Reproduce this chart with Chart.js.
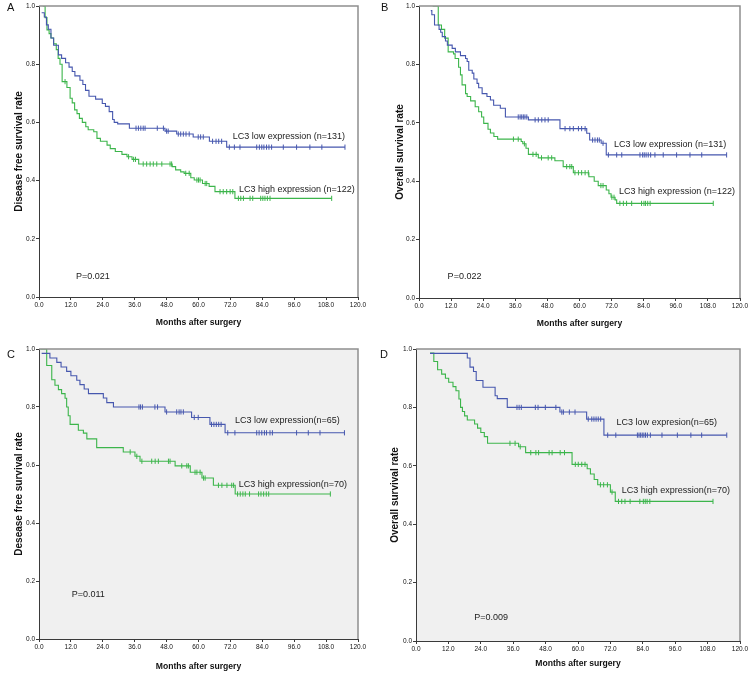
<!DOCTYPE html>
<html>
<head>
<meta charset="utf-8">
<script src="https://cdn.jsdelivr.net/npm/chart.js@4.4.1/dist/chart.umd.min.js"></script>
<style>
html,body{margin:0;padding:0;background:#fff;}
#wrap{position:relative;width:750px;height:674px;overflow:hidden;}
.p{position:absolute;}
canvas{display:block;}
</style>
</head>
<body>
<div id="wrap">
  <div class="p" style="left:0;top:0;"><canvas id="cA" width="375" height="330"></canvas></div>
  <div class="p" style="left:375px;top:0;"><canvas id="cB" width="375" height="330"></canvas></div>
  <div class="p" style="left:0;top:330px;"><canvas id="cC" width="375" height="344"></canvas></div>
  <div class="p" style="left:375px;top:330px;"><canvas id="cD" width="375" height="344"></canvas></div>
</div>
<script>
// ---------- tick labels ----------
const xTickLabels = ['0.0','12.0','24.0','36.0','48.0','60.0','72.0','84.0','96.0','108.0','120.0'];
const yTickLabels = ['0.0','0.2','0.4','0.6','0.8','1.0'];

// ---------- Panel A : disease free survival (n=131 / n=122) ----------
const aLowT = [1.0,2.0,2.8,3.5,4.5,5.5,7.3,8.5,10.0,11.3,12.5,13.5,15.4,16.5,17.5,18.8,21.3,23.8,25.0,26.4,27.7,28.3,29.6,34.0,47.4,51.8,58.0,64.1,70.6];
const aLowS = [0.977,0.962,0.935,0.92,0.89,0.865,0.832,0.82,0.805,0.79,0.775,0.76,0.745,0.73,0.71,0.69,0.68,0.665,0.655,0.637,0.61,0.60,0.595,0.58,0.57,0.56,0.55,0.535,0.515];
const aLowC = [36.5,37.4,38.3,39.2,39.9,44.5,46.8,48.0,48.6,52.4,53.3,54.3,55.3,56.5,59.9,60.8,61.8,65.3,66.6,67.6,68.7,71.6,73.5,75.6,81.9,82.9,83.8,84.6,85.6,86.5,87.5,91.9,96.9,101.9,106.4,115.1];
const aHighT = [1.4,2.3,3.0,3.8,4.5,5.5,6.5,7.2,7.9,8.7,10.5,11.7,12.5,13.4,14.3,15.2,16.3,17.6,18.5,20.6,21.8,23.1,25.6,26.8,28.7,31.2,33.1,35.0,37.5,50.1,51.4,53.3,54.6,57.1,58.4,61.5,64.0,66.2,73.7];
const aHighS = [1.0,0.96,0.918,0.905,0.89,0.87,0.85,0.82,0.80,0.74,0.72,0.683,0.667,0.643,0.63,0.614,0.60,0.585,0.575,0.568,0.545,0.535,0.522,0.51,0.50,0.49,0.482,0.473,0.457,0.448,0.437,0.43,0.425,0.41,0.402,0.39,0.38,0.362,0.339];
const aHighC = [9.8,33.7,35.6,36.3,39.2,40.5,41.8,43.0,44.3,46.2,49.3,49.9,55.2,56.5,59.4,60.0,60.6,62.5,63.1,68.1,69.3,70.6,71.9,72.9,75.0,75.9,76.9,79.4,80.4,83.4,84.2,85.0,85.9,86.9,110.1];

// ---------- Panel B : overall survival (n=131 / n=122) ----------
const bLowT = [4.4,4.8,5.8,7.5,8.1,8.7,9.9,10.6,12.4,13.6,15.5,17.4,18.0,18.6,19.9,20.5,21.7,22.3,23.6,25.4,26.7,27.9,30.4,32.3,40.9,52.7,62.7,63.8,68.1,70.0];
const bLowS = [0.984,0.97,0.935,0.92,0.91,0.895,0.88,0.866,0.855,0.843,0.83,0.82,0.81,0.78,0.77,0.75,0.735,0.72,0.70,0.69,0.678,0.66,0.65,0.62,0.61,0.58,0.564,0.541,0.53,0.49];
const bLowC = [37.1,37.8,38.4,39.0,39.6,40.3,43.4,44.6,45.9,47.1,48.3,54.6,56.4,57.7,59.6,60.8,62.1,64.9,65.8,66.7,67.4,68.8,70.8,73.9,75.8,82.6,83.6,84.2,84.9,85.7,86.6,88.2,91.3,96.3,101.3,105.7,115.0];
const bHighT = [5.1,7.2,8.4,9.6,10.9,12.9,13.5,14.8,15.5,16.1,17.4,18.0,19.3,21.0,22.3,23.4,24.2,25.8,26.7,28.0,29.4,38.2,38.8,40.0,40.9,44.6,50.8,53.9,57.7,63.5,65.5,67.0,70.0,71.0,71.8,73.3,73.9];
const bHighS = [1.0,0.935,0.92,0.89,0.843,0.836,0.82,0.79,0.764,0.73,0.70,0.69,0.675,0.655,0.638,0.62,0.598,0.578,0.565,0.553,0.544,0.536,0.528,0.513,0.492,0.48,0.47,0.45,0.429,0.415,0.40,0.385,0.37,0.357,0.345,0.336,0.324];
const bHighC = [35.3,37.1,39.4,42.6,43.8,45.8,48.3,49.6,55.2,56.4,57.1,58.3,59.6,60.8,62.1,63.3,68.0,68.8,72.1,72.9,75.1,76.4,77.6,79.5,83.2,84.1,84.7,85.5,86.4,110.0];

// ---------- Panel C : disease free survival (n=65 / n=70) ----------
const cLowT = [1.0,4.1,6.7,8.3,10.4,12.0,14.2,15.4,17.0,18.6,24.2,25.5,28.0,47.4,57.4,64.3,70.0];
const cLowS = [0.985,0.969,0.954,0.938,0.923,0.908,0.892,0.877,0.862,0.846,0.831,0.815,0.800,0.783,0.764,0.74,0.711];
const cLowC = [37.6,38.2,38.9,43.6,44.6,48.0,51.8,52.7,53.4,54.3,58.4,59.9,64.9,65.8,66.7,67.6,68.5,71.0,73.7,81.9,82.8,83.8,84.8,85.6,86.9,87.8,96.9,101.3,105.7,114.9];
const cHighT = [0.5,2.9,4.8,6.0,7.3,8.5,9.8,10.4,11.0,11.7,14.8,16.7,18.0,21.7,31.7,36.1,38.0,51.2,56.9,61.3,65.6,73.8];
const cHighS = [1.0,0.943,0.894,0.875,0.86,0.846,0.83,0.80,0.77,0.74,0.72,0.71,0.69,0.66,0.645,0.63,0.613,0.597,0.575,0.555,0.53,0.50];
const cHighC = [34.3,36.8,38.7,42.4,43.7,44.9,48.7,49.3,53.7,55.6,56.2,58.7,59.4,60.6,61.9,62.5,67.5,68.8,70.7,72.5,73.2,74.7,75.7,76.7,77.6,79.2,82.6,83.5,84.5,85.5,86.4,109.6];

// ---------- Panel D : overall survival (n=65 / n=70) ----------
const dLowT = [5.2,19.0,20.0,21.3,22.3,24.8,29.3,30.1,33.8,53.3,63.2,69.6];
const dLowS = [0.985,0.969,0.938,0.923,0.892,0.869,0.84,0.83,0.80,0.784,0.76,0.705];
const dLowC = [37.4,38.2,39.0,44.2,45.2,47.9,51.8,54.0,54.6,56.8,58.9,63.8,65.1,65.9,66.7,67.5,68.4,71.0,74.0,82.0,82.6,83.2,83.8,84.4,85.0,85.7,86.8,91.1,96.8,101.8,105.8,115.1];
const dHighT = [5.2,6.6,8.0,9.5,10.9,12.1,13.7,14.8,15.9,16.5,17.2,18.0,19.0,21.7,22.8,24.0,25.3,26.5,38.0,40.6,57.8,63.4,64.6,66.0,67.3,72.0,73.8];
const dHighS = [0.986,0.957,0.929,0.914,0.90,0.886,0.871,0.857,0.829,0.80,0.786,0.771,0.757,0.743,0.729,0.714,0.70,0.677,0.665,0.645,0.605,0.59,0.572,0.553,0.535,0.51,0.478];
const dHighC = [34.8,36.7,38.6,42.5,44.4,45.4,49.3,50.4,53.4,55.0,59.0,60.1,61.4,62.6,68.3,69.5,70.9,72.6,75.0,76.2,77.4,79.3,82.9,84.2,84.9,85.6,86.6,110.0];

// ---------- styling ----------
const FONT = '"Liberation Sans", Arial, sans-serif';
const BLUE = '#4657ae';
const GREEN = '#3cb54b';
const AXIS = '#3a3a3a';
const BOX = '#8e8e8e';

function survAt(T, S, t) {
  let v = S[0];
  for (let i = 0; i < T.length; i++) if (T[i] <= t) v = S[i];
  return v;
}
function curveData(T, S, C) {
  const pts = T.map((t, i) => ({x: t, y: S[i]}));
  const end = Math.max(...C);
  if (end > T[T.length - 1]) pts.push({x: end, y: S[S.length - 1]});
  return pts;
}
function censorData(T, S, C) {
  return C.map(c => ({x: c, y: survAt(T, S, c)}));
}
function curveDs(T, S, C, col) {
  return {data: curveData(T, S, C), showLine: true, stepped: true, borderColor: col,
          borderWidth: 1.1, pointRadius: 0, fill: false, tension: 0};
}
function markDs(T, S, C, col) {
  return {data: censorData(T, S, C), showLine: false, pointStyle: 'line', rotation: 90,
          pointRadius: 2.6, borderColor: col, backgroundColor: col, pointBorderWidth: 1};
}

const deco = {
  id: 'deco',
  beforeDraw(chart, args, o) {
    const a = chart.chartArea, ctx = chart.ctx;
    if (o.bg) {
      ctx.save(); ctx.fillStyle = o.bg;
      ctx.fillRect(a.left, a.top, a.right - a.left, a.bottom - a.top);
      ctx.restore();
    }
  },
  afterDraw(chart, args, o) {
    const a = chart.chartArea, ctx = chart.ctx;
    const xs = chart.scales.x, ys = chart.scales.y;
    ctx.save();
    ctx.strokeStyle = BOX; ctx.lineWidth = 1.5;
    ctx.beginPath();
    ctx.moveTo(a.left, a.top); ctx.lineTo(a.right, a.top); ctx.lineTo(a.right, a.bottom);
    ctx.stroke();
    ctx.fillStyle = '#111';
    ctx.textAlign = 'left'; ctx.textBaseline = 'middle';
    ctx.font = '11px ' + FONT;
    ctx.fillText(o.letter, o.letterAt[0], o.letterAt[1]);
    ctx.font = '9px ' + FONT;
    ctx.fillStyle = '#222';
    o.notes.forEach(n => ctx.fillText(n.t, xs.getPixelForValue(n.x), ys.getPixelForValue(n.y)));
    ctx.restore();
  }
};

function makeChart(p) {
  new Chart(document.getElementById(p.id), {
    type: 'scatter',
    data: {datasets: [
      curveDs(p.lowT, p.lowS, p.lowC, BLUE),
      markDs(p.lowT, p.lowS, p.lowC, BLUE),
      curveDs(p.highT, p.highS, p.highC, GREEN),
      markDs(p.highT, p.highS, p.highC, GREEN)
    ]},
    options: {
      responsive: false, animation: false, devicePixelRatio: 1,
      layout: {padding: {left: 0, top: p.area.top, right: p.w - p.area.right, bottom: 0}},
      plugins: {
        legend: {display: false}, tooltip: {enabled: false},
        deco: {bg: p.bg, letter: p.letter, letterAt: p.letterAt, notes: p.notes}
      },
      scales: {
        x: {
          type: 'linear', min: 0, max: 120,
          afterFit: s => { s.height = p.h - p.area.bottom; },
          ticks: {stepSize: 12, autoSkip: false, maxRotation: 0, minRotation: 0, padding: 1,
                  font: {size: 6.5, family: FONT}, color: '#111',
                  callback: (v, i) => xTickLabels[i]},
          grid: {display: true, drawOnChartArea: false, drawTicks: true, tickLength: 3, color: AXIS},
          border: {display: true, color: AXIS, width: 1},
          title: {display: true, text: 'Months after surgery', color: '#111',
                  font: {size: 8.6, weight: 'bold', family: FONT}, padding: {top: 0, bottom: p.xtPad}}
        },
        y: {
          type: 'linear', min: 0, max: 1,
          afterFit: s => { s.width = p.area.left; },
          ticks: {stepSize: 0.2, padding: 1, font: {size: 6.5, family: FONT}, color: '#111',
                  callback: (v, i) => yTickLabels[i]},
          grid: {display: true, drawOnChartArea: false, drawTicks: true, tickLength: 3, color: AXIS},
          border: {display: true, color: AXIS, width: 1},
          title: {display: true, text: p.yTitle, color: '#111',
                  font: {size: 10, weight: 'bold', family: FONT}, padding: {top: p.ytPad, bottom: 0}}
        }
      }
    },
    plugins: [deco]
  });
}

makeChart({id: 'cA', w: 375, h: 330, area: {left: 39, top: 6, right: 358, bottom: 297},
  lowT: aLowT, lowS: aLowS, lowC: aLowC, highT: aHighT, highS: aHighS, highC: aHighC,
  yTitle: 'Disease free survival rate', ytPad: 13, xtPad: 2, bg: null, letter: 'A', letterAt: [7, 8],
  notes: [{t: 'LC3 low expression (n=131)', x: 72.9, y: 0.551},
          {t: 'LC3 high expression (n=122)', x: 75.2, y: 0.371},
          {t: 'P=0.021', x: 13.9, y: 0.07}]});

makeChart({id: 'cB', w: 375, h: 330, area: {left: 44, top: 6, right: 365, bottom: 298},
  lowT: bLowT, lowS: bLowS, lowC: bLowC, highT: bHighT, highS: bHighS, highC: bHighC,
  yTitle: 'Overall survival rate', ytPad: 19, xtPad: 1.5, bg: null, letter: 'B', letterAt: [6, 8],
  notes: [{t: 'LC3 low expression (n=131)', x: 72.9, y: 0.527},
          {t: 'LC3 high expression (n=122)', x: 74.8, y: 0.364},
          {t: 'P=0.022', x: 10.7, y: 0.072}]});

makeChart({id: 'cC', w: 375, h: 344, area: {left: 39, top: 19, right: 358, bottom: 309},
  lowT: cLowT, lowS: cLowS, lowC: cLowC, highT: cHighT, highS: cHighS, highC: cHighC,
  yTitle: 'Desease free survival rate', ytPad: 13, xtPad: 2, bg: '#f0f0f0', letter: 'C', letterAt: [7, 24.5],
  notes: [{t: 'LC3 low expression(n=65)', x: 73.7, y: 0.755},
          {t: 'LC3 high expression(n=70)', x: 75.1, y: 0.533},
          {t: 'P=0.011', x: 12.3, y: 0.152}]});

makeChart({id: 'cD', w: 375, h: 344, area: {left: 41, top: 19, right: 365, bottom: 311},
  lowT: dLowT, lowS: dLowS, lowC: dLowC, highT: dHighT, highS: dHighS, highC: dHighC,
  yTitle: 'Overall survival rate', ytPad: 14.7, xtPad: 5.5, bg: '#f0f0f0', letter: 'D', letterAt: [5, 24.5],
  notes: [{t: 'LC3 low expresion(n=65)', x: 74.3, y: 0.749},
          {t: 'LC3 high expression(n=70)', x: 76.2, y: 0.515},
          {t: 'P=0.009', x: 21.6, y: 0.081}]});
</script>
</body>
</html>
